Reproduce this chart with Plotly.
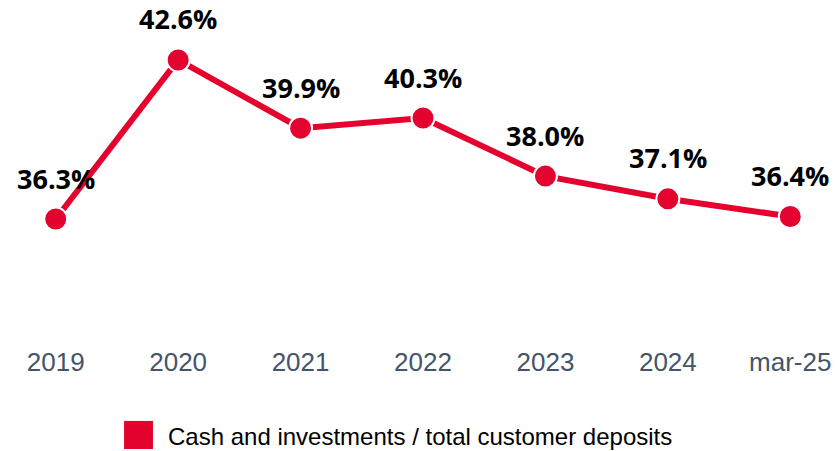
import plotly.graph_objects as go

# data
periods = ["2019", "2020", "2021", "2022", "2023", "2024", "mar-25"]
ratio = [36.3, 42.6, 39.9, 40.3, 38.0, 37.1, 36.4]
ratio_labels = ["36.3%", "42.6%", "39.9%", "40.3%", "38.0%", "37.1%", "36.4%"]
series_name = "Cash and investments / total customer deposits"

red = "#E4032E"

fig = go.Figure()

fig.add_trace(go.Scatter(
    x=periods, y=ratio,
    mode="lines+markers",
    name=series_name,
    line=dict(color=red, width=6),
    marker=dict(color=red, size=23, line=dict(color="white", width=2)),
    showlegend=False,
    hoverinfo="skip",
))

# value labels above points (x as category index so "2019" isn't read as a number)
for i, (v, lab) in enumerate(zip(ratio, ratio_labels)):
    fig.add_annotation(
        x=i, y=v, text="<b>" + lab + "</b>",
        showarrow=False, yshift=41,
        font=dict(family="Open Sans", size=27, color="black"),
    )

# custom legend (big square + text)
fig.add_shape(type="rect", xref="paper", yref="paper",
              x0=0.130, x1=0.1658, y0=-0.3206, y1=-0.238,
              fillcolor=red, line=dict(width=0))
fig.add_annotation(
    xref="paper", yref="paper", x=0.182, y=-0.2824,
    xanchor="left", yanchor="middle", showarrow=False,
    text=series_name,
    font=dict(family="Liberation Sans", size=24, color="black"),
)

fig.update_layout(
    width=835, height=451,
    margin=dict(l=19, r=8, t=0, b=111),
    plot_bgcolor="white", paper_bgcolor="white",
    xaxis=dict(
        type="category", range=[-0.3, 6.3], automargin=False,
        showgrid=False, zeroline=False, showline=False,
        tickfont=dict(family="Liberation Sans", size=26, color="#44546A"),
        ticks="", ticklabelstandoff=4,
    ),
    yaxis=dict(range=[31.506, 44.977], visible=False, automargin=False),
)

# drop the browser's default 8px body margin so the figure sits at 0,0
fig.write_html("out.html", config={"displayModeBar": False},
               post_script="document.body.style.margin='0px';")
